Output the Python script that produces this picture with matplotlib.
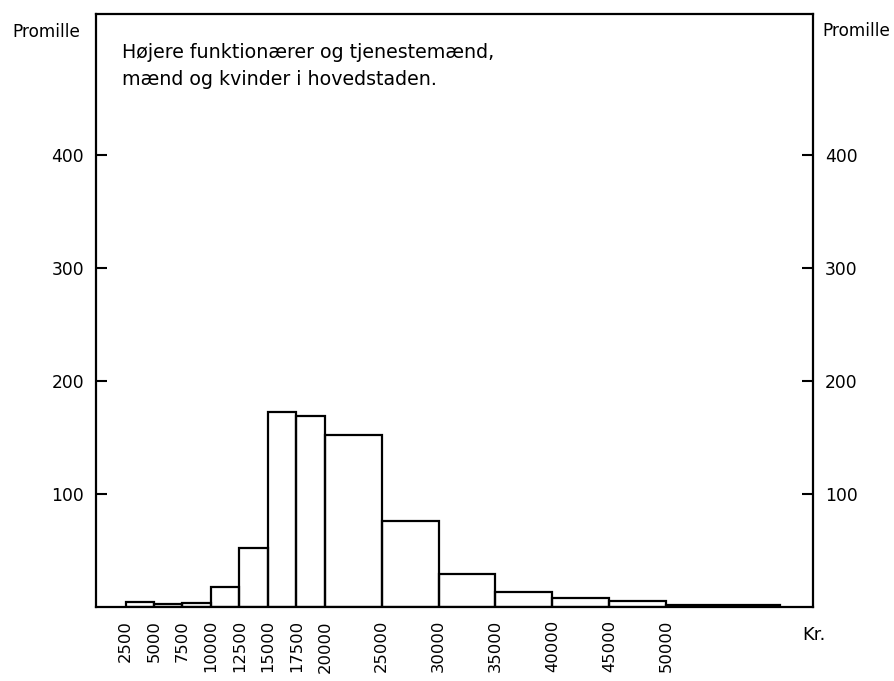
import numpy as np
import matplotlib
matplotlib.use("Agg")
import matplotlib.pyplot as plt

plt.rcParams['font.family'] = ['DejaVu Sans']

# income classes (kr.) and share per class (promille)
bin_edges = [2500, 5000, 7500, 10000, 12500, 15000, 17500, 20000,
             25000, 30000, 35000, 40000, 45000, 50000, 60000]
promille = [4, 3, 3.5, 18, 52, 173, 169, 152, 76, 29, 13, 8, 5, 2]
xtick_vals = [2500, 5000, 7500, 10000, 12500, 15000, 17500, 20000,
              25000, 30000, 35000, 40000, 45000, 50000]
ytick_vals = [100, 200, 300, 400]

lefts = np.array(bin_edges[:-1])
widths = np.diff(bin_edges)

W, H = 895, 681
fig = plt.figure(figsize=(W / 100, H / 100), dpi=100)
ax = fig.add_axes([96 / W, 1 - 607 / H, (813 - 96) / W, (607 - 14) / H])

ax.bar(lefts, promille, width=widths, align="edge", fill=False,
       edgecolor="black", linewidth=1.6)

ax.set_xlim(-100, 62900)
ax.set_ylim(0, 525)

for s in ax.spines.values():
    s.set_linewidth(1.6)

ax.set_xticks(xtick_vals)
ax.set_xticklabels([str(v) for v in xtick_vals], rotation=90, fontsize=11.8)
ax.tick_params(axis="x", length=0, pad=9.4)

# ticks on both sides, pointing inwards
ax.set_yticks(ytick_vals)
ax.set_yticklabels([str(v) for v in ytick_vals], fontsize=12.3)
ax.tick_params(axis="y", direction="in", length=8, width=1.5, pad=8.5,
               left=True, right=True, labelleft=True, labelright=True)

fig.text(12 / W, 1 - 37 / H, "Promille", fontsize=12.2, va="baseline", ha="left")
fig.text(822 / W, 1 - 36 / H, "Promille", fontsize=12.2, va="baseline", ha="left")
fig.text(814 / W, 1 - 640 / H, "Kr.", fontsize=13, va="baseline", ha="center")

fig.text(122 / W, 1 - 58 / H, "Højere funktionærer og tjenestemænd,",
         fontsize=13.7, va="baseline", ha="left")
fig.text(122 / W, 1 - 85 / H, "mænd og kvinder i hovedstaden.",
         fontsize=13.7, va="baseline", ha="left")

fig.savefig("out.png", dpi=100)
